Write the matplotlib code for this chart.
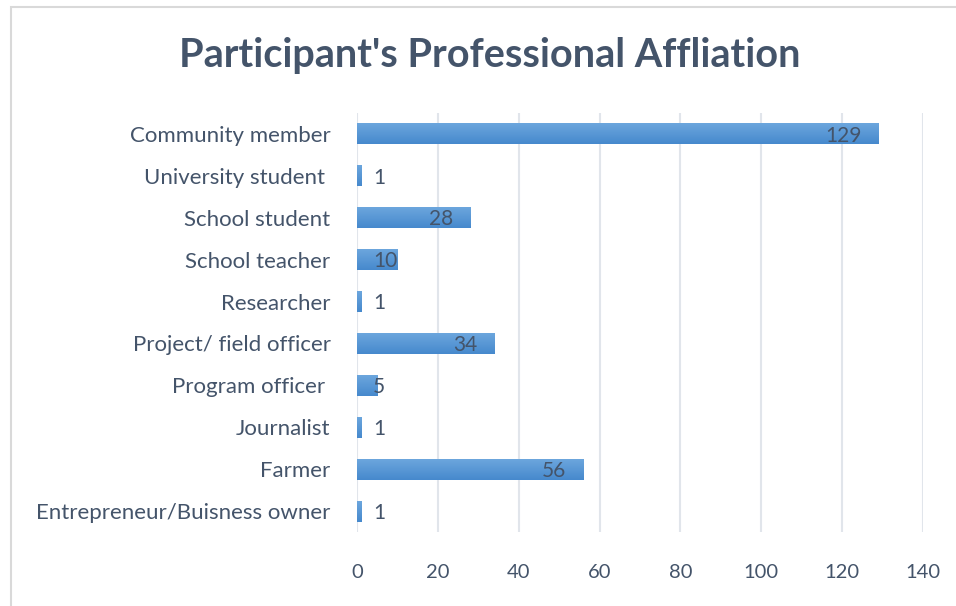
import numpy as np
import matplotlib
matplotlib.use("Agg")
from matplotlib import pyplot as plt
from matplotlib.patches import Rectangle

# Data (top to bottom as in the chart)
categories = [
    "Community member",
    "University student ",
    "School student",
    "School teacher",
    "Researcher",
    "Project/ field officer",
    "Program officer ",
    "Journalist",
    "Farmer",
    "Entrepreneur/Buisness owner",
]
counts = [129, 1, 28, 10, 1, 34, 5, 1, 56, 1]
x_ticks = [0, 20, 40, 60, 80, 100, 120, 140]

TEXT = "#44546A"
GRID = "#E1E5EB"

plt.rcParams['font.family'] = ['Lato', 'DejaVu Sans']

fig = plt.figure(figsize=(9.56, 6.06), dpi=100)
fig.patch.set_facecolor("white")

# light chart-area frame (cropped on right and bottom)
fig.patches.append(Rectangle((11 / 956, -0.05), 1.0, 1 - 7 / 606 + 0.05,
                             transform=fig.transFigure, fill=False,
                             edgecolor="#D9D9D9", linewidth=1.5))

ax = fig.add_axes([357 / 956, 1 - 532 / 606, (923 - 357) / 956, (532 - 113) / 606])

y = np.arange(len(categories))
bars = ax.barh(y, counts, height=0.5, color="#5B9BD5", zorder=2)

# vertical gradient on each bar
grad = np.linspace(0, 1, 50).reshape(-1, 1)
cmap = matplotlib.colors.LinearSegmentedColormap.from_list("b", ["#6CA6DD", "#4689CD"])
for b in bars:
    x0, y0, w, h = b.get_x(), b.get_y(), b.get_width(), b.get_height()
    im = ax.imshow(grad, cmap=cmap, aspect="auto", extent=(x0, x0 + w, y0 + h, y0),
                   zorder=3, interpolation="bilinear")
    im.set_clip_path(b)

# value labels
for yi, v in zip(y, counts):
    left = v - 4.2 - 3.0 * len(str(v))
    if left < 4:
        ax.text(4, yi + 0.04, str(v), ha="left", va="center", color=TEXT, fontsize=15, zorder=4)
    else:
        ax.text(v - 4.2, yi + 0.04, str(v), ha="right", va="center", color=TEXT, fontsize=15, zorder=4)

ax.set_xlim(0, 140)
ax.set_ylim(len(categories) - 0.5, -0.5)
ax.set_xticks(x_ticks)
ax.set_yticks(y)
ax.set_yticklabels(categories)
ax.grid(axis="x", color=GRID, linewidth=1.5, zorder=0)
ax.set_axisbelow(True)
for s in ax.spines.values():
    s.set_visible(False)
ax.tick_params(axis="both", length=0, colors=TEXT, labelsize=16)
ax.tick_params(axis="x", labelsize=14.5)
ax.tick_params(axis="y", pad=19)
ax.tick_params(axis="x", pad=23)

fig.text(490 / 956, 1 - 55 / 606, "Participant's Professional Affliation",
         ha="center", va="center", fontsize=28.5, fontweight="bold", color=TEXT)

fig.savefig("out.png", dpi=100)
